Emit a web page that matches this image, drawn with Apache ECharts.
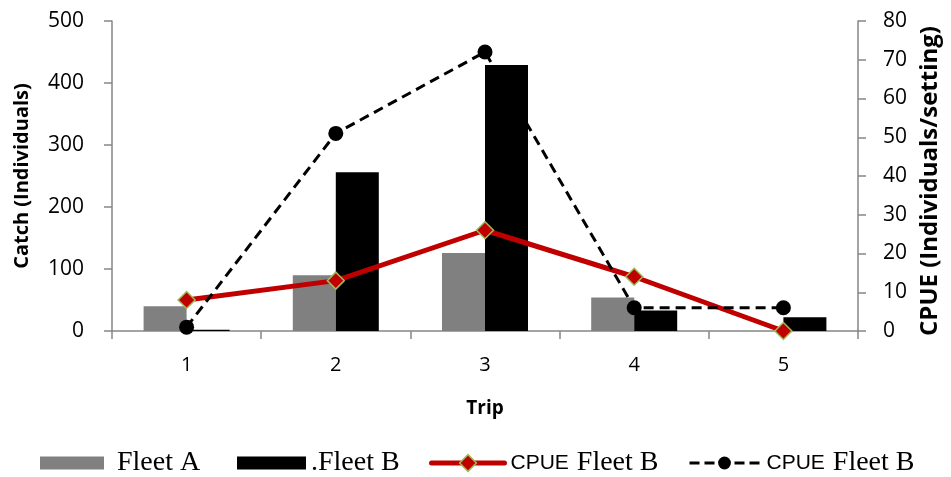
<!DOCTYPE html>
<html>
<head>
<meta charset="utf-8">
<script src="https://cdn.jsdelivr.net/npm/echarts@6/dist/echarts.min.js"></script>
<style>
  html, body { margin: 0; padding: 0; background: #fff; }
  #chart { width: 951px; height: 477px; }
</style>
</head>
<body>
<div id="chart"></div>
<script>
// Trips along the x axis
const trips = ['1', '2', '3', '4', '5'];

// Catch per trip (individuals), left axis
const catchFleetA = [40, 90, 126, 54, 0];
const catchFleetB = [2, 256, 429, 33, 22];

// Catch per unit effort (individuals/setting), right axis
const cpueRed = [8, 13, 26, 14, 0];
const cpueBlack = [1, 51, 72, 6, 6];

// Axis ranges
const catchMax = 500, catchStep = 100;
const cpueMax = 80, cpueStep = 10;

const axisGrey = '#868686';
const labelFont = 'Open Sans';

const chart = echarts.init(document.getElementById('chart'));

// One legend block per entry so each can be placed and styled on its own
function legendBlock(cfg) {
  return Object.assign({
    data: [cfg.name],
    left: cfg.left,
    top: 449,
    padding: 0,
    itemGap: 0,
    itemWidth: cfg.itemWidth,
    itemHeight: cfg.itemHeight,
    selectedMode: false,
    formatter: function () {
      return cfg.cpue ? '{s|CPUE}{t|Fleet B}' : '{t|' + cfg.text + '}';
    },
    textStyle: {
      color: '#000',
      padding: [0, 0, 0, cfg.textPad],
      rich: {
        s: { fontFamily: 'Liberation Sans, Arial, sans-serif', fontSize: 21, color: '#000', padding: [0, 8, 0, 0] },
        t: { fontFamily: 'Liberation Serif, serif', fontSize: 28, color: '#000' }
      }
    }
  }, cfg.extra || {});
}

chart.setOption({
  animation: false,
  backgroundColor: '#fff',
  grid: { left: 112, right: 93, top: 21, bottom: 146, outerBoundsMode: 'none', containLabel: false },
  legend: [
    legendBlock({ name: 'Fleet A', text: 'Fleet A', left: 40, itemWidth: 64, itemHeight: 13, textPad: 8, extra: { icon: 'rect' } }),
    legendBlock({ name: '.Fleet B', text: '.Fleet B', left: 237, itemWidth: 69, itemHeight: 13, textPad: 0, extra: { icon: 'rect' } }),
    legendBlock({
      name: 'CPUE Fleet B', cpue: true, left: 429, itemWidth: 73, itemHeight: 21, textPad: 1,
      extra: {
        lineStyle: { width: 5, color: '#c00000', cap: 'round' },
        itemStyle: { borderColor: '#9bbb59', borderWidth: 1.5 }
      }
    }),
    legendBlock({
      name: 'CPUE Fleet B\u200b', cpue: true, left: 688, itemWidth: 70, itemHeight: 16, textPad: 2,
      extra: {
        lineStyle: { width: 3, color: '#000', type: [10, 5] }
      }
    })
  ],
  xAxis: {
    type: 'category',
    data: trips,
    name: 'Trip',
    nameLocation: 'middle',
    nameGap: 68,
    nameTextStyle: { fontFamily: labelFont, fontSize: 19, fontWeight: 'bold', color: '#000' },
    axisLine: { lineStyle: { color: axisGrey, width: 1.5 } },
    axisTick: { show: true, length: 8, lineStyle: { color: axisGrey, width: 1.5 } },
    axisLabel: { fontFamily: labelFont, fontSize: 20, color: '#000', margin: 24 }
  },
  yAxis: [
    {
      type: 'value',
      min: 0, max: catchMax, interval: catchStep,
      name: 'Catch (Individuals)',
      nameLocation: 'middle',
      nameGap: 80,
      nameTextStyle: { fontFamily: labelFont, fontSize: 20, fontWeight: 'bold', color: '#000' },
      axisLine: { show: true, lineStyle: { color: axisGrey, width: 1.5 } },
      axisTick: { show: true, length: 8, lineStyle: { color: axisGrey, width: 1.5 } },
      axisLabel: { fontFamily: labelFont, fontSize: 21, color: '#000', margin: 28 },
      splitLine: { show: false }
    },
    {
      type: 'value',
      min: 0, max: cpueMax, interval: cpueStep,
      position: 'right',
      name: 'CPUE (Individuals/setting)',
      nameLocation: 'middle',
      nameGap: 58,
      nameRotate: 90,
      nameTextStyle: { fontFamily: labelFont, fontSize: 24, fontWeight: 'bold', color: '#000', padding: [0, 10, 0, 0] },
      axisLine: { show: true, lineStyle: { color: axisGrey, width: 1.5 } },
      axisTick: { show: true, length: 8, lineStyle: { color: axisGrey, width: 1.5 } },
      axisLabel: { fontFamily: labelFont, fontSize: 21, color: '#000', margin: 25 },
      splitLine: { show: false }
    }
  ],
  series: [
    {
      name: 'Fleet A',
      type: 'bar',
      data: catchFleetA,
      barWidth: 43,
      barGap: '0%',
      itemStyle: { color: '#808080' }
    },
    {
      name: '.Fleet B',
      type: 'bar',
      data: catchFleetB,
      barWidth: 43,
      barGap: '0%',
      itemStyle: { color: '#000' }
    },
    {
      name: 'CPUE Fleet B',
      type: 'line',
      yAxisIndex: 1,
      data: cpueRed,
      symbol: 'diamond',
      symbolSize: 17,
      lineStyle: { color: '#c00000', width: 5 },
      itemStyle: { color: '#c00000', borderColor: '#9bbb59', borderWidth: 1.5 },
      z: 3
    },
    {
      name: 'CPUE Fleet B\u200b',
      type: 'line',
      yAxisIndex: 1,
      data: cpueBlack,
      symbol: 'circle',
      symbolSize: 15,
      lineStyle: { color: '#000', width: 3, type: [10, 6] },
      itemStyle: { color: '#000' },
      z: 4
    }
  ]
});
</script>
</body>
</html>
